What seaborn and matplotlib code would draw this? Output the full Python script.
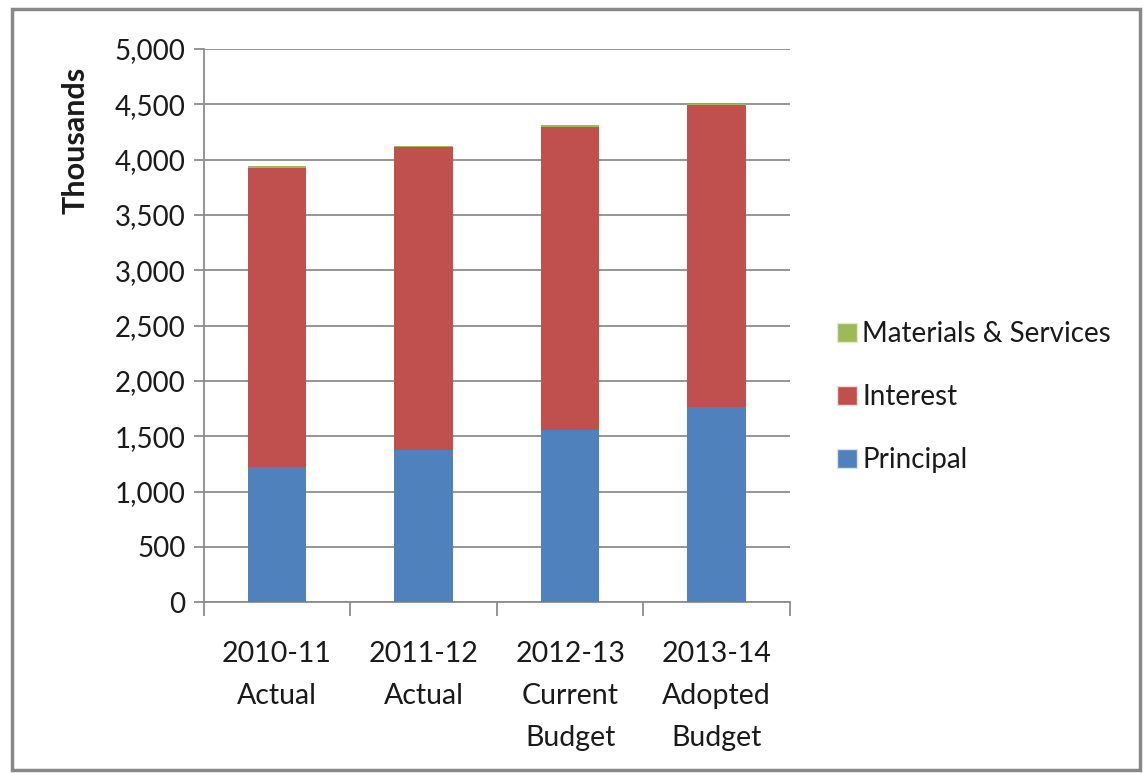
import numpy as np
import pandas as pd
import seaborn as sns
import matplotlib.pyplot as plt
from matplotlib.patches import Patch, Rectangle
from matplotlib.ticker import FuncFormatter, FixedLocator

# data (thousands)
periods = ['2010-11\nActual', '2011-12\nActual', '2012-13\nCurrent\nBudget', '2013-14\nAdopted\nBudget']
principal = [1221, 1374, 1558, 1760]
interest = [2703, 2737, 2737, 2734]
materials = [15, 12, 17, 12]

df = pd.DataFrame({'Period': periods, 'Principal': principal,
                   'Interest': interest, 'Materials & Services': materials})
df['lvl_int'] = df['Principal'] + df['Interest']
df['lvl_mat'] = df['lvl_int'] + df['Materials & Services']

sns.set_theme(style='white')
plt.rcParams['font.family'] = ['Lato', 'DejaVu Sans']

fig = plt.figure(figsize=(11.44, 7.73), dpi=100)
ax = fig.add_axes([0.178, 0.221, 0.5126, 0.7156])

blue, red, green = '#4F81BD', '#C0504D', '#9BBB59'
# stacked: draw cumulative tops back-to-front
sns.barplot(data=df, x='Period', y='lvl_mat', color=green, width=0.4,
            linewidth=0, saturation=1, ax=ax, zorder=3)
sns.barplot(data=df, x='Period', y='lvl_int', color=red, width=0.4,
            linewidth=0, saturation=1, ax=ax, zorder=3)
sns.barplot(data=df, x='Period', y='Principal', color=blue, width=0.4,
            linewidth=0, saturation=1, ax=ax, zorder=3)

ax.set_ylim(0, 5000)
ax.set_xlim(-0.5, 3.5)
ax.set_yticks(np.arange(0, 5001, 500))
ax.yaxis.set_major_formatter(FuncFormatter(lambda v, p: f'{int(v):,}'))
ax.grid(axis='y', color='#8c8c8c', linewidth=1.3, zorder=0)
ax.grid(axis='x', visible=False)
ax.set_axisbelow(True)

for s in ['top', 'right']:
    ax.spines[s].set_visible(False)
for s in ['left', 'bottom']:
    ax.spines[s].set_color('#8c8c8c')
    ax.spines[s].set_linewidth(1.3)

ax.tick_params(axis='y', which='major', left=True, length=7, width=1.3,
               color='#8c8c8c', labelsize=20, labelcolor='#1a1a1a', pad=6)
ax.tick_params(axis='x', which='major', bottom=False, labelsize=20.5,
               labelcolor='#1a1a1a', pad=22)
ax.xaxis.set_minor_locator(FixedLocator([-0.5, 0.5, 1.5, 2.5, 3.5]))
ax.tick_params(axis='x', which='minor', bottom=True, length=10, width=1.3,
               color='#8c8c8c')
for lab in ax.get_xticklabels():
    lab.set_linespacing(1.75)

ax.set_xlabel('')
ax.set_ylabel('Thousands', fontsize=22, fontweight='bold', color='#1a1a1a')
ax.yaxis.set_label_coords(-0.195, 0.834)

handles = [Patch(facecolor=green, edgecolor='#e0e8d0'),
           Patch(facecolor=red, edgecolor='#f0dede'),
           Patch(facecolor=blue, edgecolor='#d8e2f0')]
labels = ['Materials & Services', 'Interest', 'Principal']
fig.legend(handles, labels, loc='center left', bbox_to_anchor=(0.71, 0.486),
           frameon=False, fontsize=20, handlelength=0.7, handleheight=0.7,
           handletextpad=0.2, labelspacing=1.33, labelcolor='#1a1a1a')

# outer chart border
fig.add_artist(Rectangle((12 / 1144, 3 / 773), 1128 / 1144, 761 / 773,
                         transform=fig.transFigure, fill=False,
                         edgecolor='#888888', linewidth=2.5))

fig.savefig('out.png', dpi=100)
